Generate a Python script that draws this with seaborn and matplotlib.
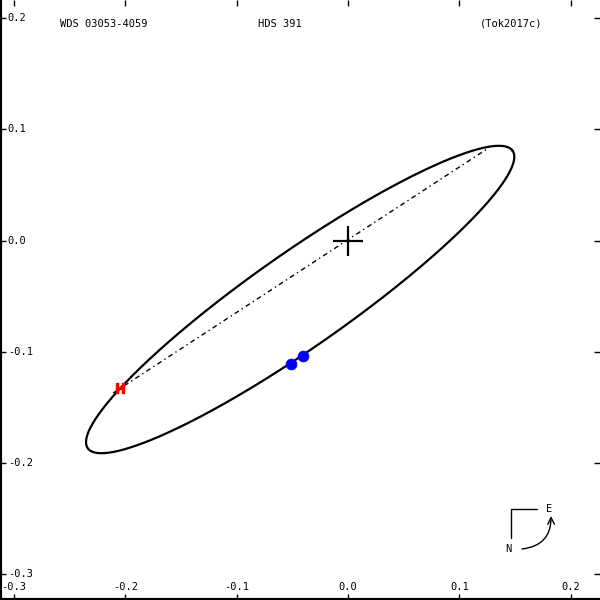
import numpy as np
import pandas as pd
import matplotlib
matplotlib.use("Agg")
import matplotlib.pyplot as plt
import seaborn as sns

# apparent orbit, arcsec
orbit_center = (-0.043, -0.053)
orbit_axes = (0.233, 0.0425)     # semi-major, semi-minor
orbit_angle = 35.0               # degrees, from +x

# line of nodes, through the primary
node_x = [-0.211, 0.126]
node_y = [-0.137, 0.083]

# measurements
speckle_x = [-0.0514, -0.0406]
speckle_y = [-0.1106, -0.1038]
hip_x = [-0.2045]
hip_y = [-0.1327]

xticks = [-0.3, -0.2, -0.1, 0.0, 0.1, 0.2]
yticks = [-0.3, -0.2, -0.1, 0.0, 0.1, 0.2]

title_left = "WDS 03053-4059"
title_mid = "HDS 391"
title_right = "(Tok2017c)"

sns.set_theme(style="white")
plt.rcParams["font.family"] = ["DejaVu Sans Mono", "DejaVu Sans"]
plt.rcParams["text.color"] = "black"

t = np.linspace(0, 2 * np.pi, 721)
th = np.radians(orbit_angle)
a, b = orbit_axes
ex = orbit_center[0] + a * np.cos(th) * np.cos(t) - b * np.sin(th) * np.sin(t)
ey = orbit_center[1] + a * np.sin(th) * np.cos(t) + b * np.cos(th) * np.sin(t)
orbit = pd.DataFrame({"x": ex, "y": ey})

fig = plt.figure(figsize=(6, 6), dpi=100)
ax = fig.add_axes([0, 0, 1, 1])

sns.lineplot(data=orbit, x="x", y="y", sort=False, estimator=None,
             color="black", linewidth=1.6, ax=ax)
ax.plot(node_x, node_y, color="black", linewidth=1.0,
        dashes=(3.5, 2.5, 1, 2.5))
sns.scatterplot(x=speckle_x, y=speckle_y, color="#0000ee", s=60,
                marker="o", edgecolor="#0000ee", ax=ax, zorder=5)
ax.scatter(hip_x, hip_y, marker=r"$\mathbf{H}$", color="red", s=45, zorder=5)
ax.plot([0], [0], marker="+", markersize=22, markeredgewidth=1.6,
        color="black")

ax.set_xlim(-0.3127, 0.2264)
ax.set_ylim(-0.3230, 0.2161)
ax.set_xticks(xticks)
ax.set_yticks(yticks)
ax.set_xticklabels([])
ax.set_yticklabels([])
ax.tick_params(axis="both", which="both", direction="in", length=4,
               width=1, color="black", top=True, right=True,
               bottom=True, left=True)
for side in ["top", "right"]:
    ax.spines[side].set_visible(False)
for side in ["left", "bottom"]:
    ax.spines[side].set_color("black")
    ax.spines[side].set_linewidth(3)
ax.set_xlabel("")
ax.set_ylabel("")

# tick labels written inside the frame
for v in xticks:
    ax.text(v, 0.022, f"{v:.1f}", transform=ax.get_xaxis_transform(),
            ha="center", va="center", fontsize=7.5)
for v in yticks:
    ax.text(0.013, v, f"{v:.1f}", transform=ax.get_yaxis_transform(),
            ha="left", va="center", fontsize=7.5)

ax.text(0.10, 0.96, title_left, transform=ax.transAxes, fontsize=7.5,
        ha="left", va="center")
ax.text(0.467, 0.96, title_mid, transform=ax.transAxes, fontsize=7.5,
        ha="center", va="center")
ax.text(0.80, 0.96, title_right, transform=ax.transAxes, fontsize=7.5,
        ha="left", va="center")

# compass
px = lambda x, y: (x / 600, 1 - y / 600)
cx = [px(510.7, 538)[0], px(510.7, 509.3)[0], px(536.7, 509.3)[0]]
cy = [px(510.7, 538)[1], px(510.7, 509.3)[1], px(536.7, 509.3)[1]]
ax.plot(cx, cy, color="black", linewidth=1, transform=ax.transAxes)
ax.text(*px(549, 509), "E", transform=ax.transAxes, fontsize=7.5,
        ha="center", va="center")
ax.text(*px(508, 549), "N", transform=ax.transAxes, fontsize=7.5,
        ha="center", va="center")
ax.annotate("", xy=px(551, 516), xytext=px(522, 549),
            xycoords="axes fraction", textcoords="axes fraction",
            arrowprops=dict(arrowstyle="->", color="black", lw=1,
                            connectionstyle="arc3,rad=0.45",
                            shrinkA=0, shrinkB=0))

fig.savefig("out.png", dpi=100, facecolor="white")
